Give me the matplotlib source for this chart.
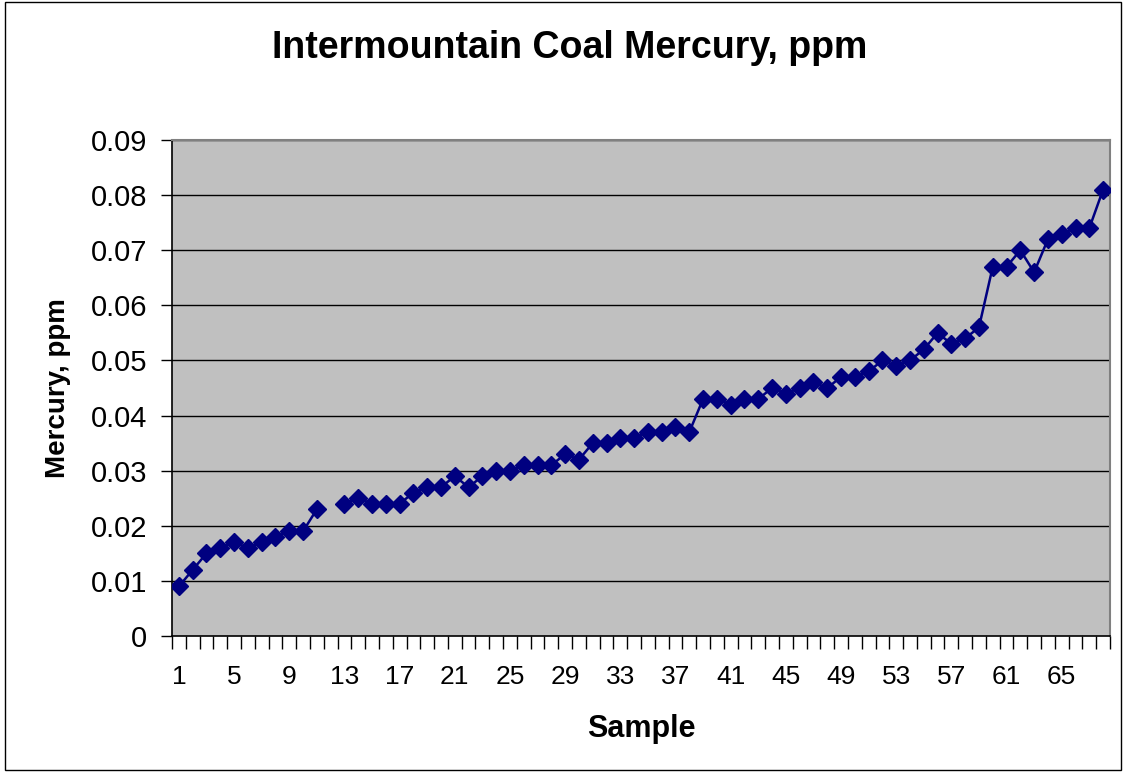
import numpy as np
import matplotlib.pyplot as plt
from matplotlib.patches import Rectangle

samples = np.arange(1, 69)
mercury = [0.009, 0.012, 0.015, 0.016, 0.017, 0.016, 0.017, 0.018, 0.019, 0.019,
           0.023, np.nan, 0.024, 0.025, 0.024, 0.024, 0.024, 0.026, 0.027, 0.027,
           0.029, 0.027, 0.029, 0.030, 0.030, 0.031, 0.031, 0.031, 0.033, 0.032,
           0.035, 0.035, 0.036, 0.036, 0.037, 0.037, 0.038, 0.037, 0.043, 0.043,
           0.042, 0.043, 0.043, 0.045, 0.044, 0.045, 0.046, 0.045, 0.047, 0.047,
           0.048, 0.050, 0.049, 0.050, 0.052, 0.055, 0.053, 0.054, 0.056, 0.067,
           0.067, 0.070, 0.066, 0.072, 0.073, 0.074, 0.074, 0.081]
y_ticks = [0, 0.01, 0.02, 0.03, 0.04, 0.05, 0.06, 0.07, 0.08, 0.09]
y_labels = ['0', '0.01', '0.02', '0.03', '0.04', '0.05', '0.06', '0.07', '0.08', '0.09']

plt.rcParams['font.family'] = ['Liberation Sans', 'DejaVu Sans']

W, H = 1126, 772
fig = plt.figure(figsize=(W / 100, H / 100), dpi=100)
ax = fig.add_axes([172 / W, 1 - 636 / H, (1110 - 172) / W, (636 - 140) / H])
ax.set_facecolor('#C0C0C0')

ax.plot(samples, mercury, color='#000080', lw=1.8, marker='D', ms=9.5,
        markeredgecolor='#000080', zorder=3)

ax.set_xlim(0.5, 68.5)
ax.set_ylim(0, 0.09)
ax.set_yticks(y_ticks)
ax.set_yticklabels(y_labels, fontsize=21)
for v in y_ticks[1:]:
    ax.axhline(v, color='black', lw=1, zorder=1)

# ticks between categories, labels every 4th sample
ax.set_xticks(np.arange(0.5, 69, 1))
ax.set_xticklabels([])
ax.set_xticks(samples[::4], minor=True)
ax.set_xticklabels([str(s) for s in samples[::4]], minor=True, fontsize=19)
ax.tick_params(axis='x', which='major', length=9, width=1, direction='out')
ax.tick_params(axis='x', which='minor', length=0, pad=21)
ax.tick_params(axis='y', length=8, width=1, pad=10)

for s in ['left', 'bottom']:
    ax.spines[s].set_color('black')
    ax.spines[s].set_linewidth(1.2)
for s in ['top', 'right']:
    ax.spines[s].set_color('#808080')
    ax.spines[s].set_linewidth(1.5)

ax.set_xlabel('Sample', fontsize=22, fontweight='bold', labelpad=18)
ax.set_ylabel('Mercury, ppm', fontsize=20, fontweight='bold', labelpad=14)
fig.text(570 / W, 1 - 48 / H, 'Intermountain Coal Mercury, ppm', ha='center',
         va='center', fontsize=27, fontweight='bold')

fig.patches.append(Rectangle((5 / W, 2 / H), 1 - 10 / W, 1 - 4 / H,
                             transform=fig.transFigure, fill=False,
                             edgecolor='black', lw=1))

fig.savefig('out.png', dpi=100)
